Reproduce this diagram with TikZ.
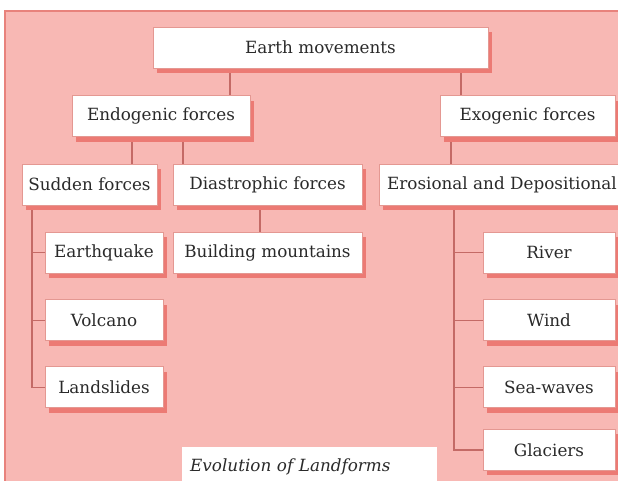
\documentclass[tikz,border=0pt]{standalone}
\usepackage{fontspec}
\setmainfont{DejaVu Serif}
\usepackage{xcolor}
\usetikzlibrary{positioning,shadows,backgrounds}

\definecolor{pinkbg}{HTML}{F8B8B4}
\definecolor{pinkedge}{HTML}{E8827C}
\definecolor{shadowred}{HTML}{EC7A74}
\definecolor{boxedge}{HTML}{E49892}
\definecolor{linkred}{HTML}{C46A66}
\definecolor{txt}{HTML}{2A2A2A}

\begin{document}
\begin{tikzpicture}[
    x=1pt, y=-1pt,
    box/.style={rectangle, draw=boxedge, line width=0.8pt, fill=white, text=txt, inner sep=2pt,
        font=\fontsize{16.8}{19}\selectfont, minimum height=41pt, minimum width=#1,
        drop shadow={shadow xshift=4pt, shadow yshift=-5pt, fill=shadowred, opacity=1}},
    box/.default=118pt,
    link/.style={draw=linkred, line width=1.2pt},
    node distance=26pt
]
    \useasboundingbox (0,0) rectangle (618,480);
    \clip (0,0) rectangle (618,480);

    % Page background
    \begin{scope}[on background layer]
        \fill[white] (0,0) rectangle (618,480);
        \fill[pinkbg] (4,10) rectangle (630,490);
        \draw[pinkedge, line width=2pt] (5,490) -- (5,11) -- (630,11);
    \end{scope}

    % Root and the two kinds of forces
    \node[box=335pt] (earth) at (320.5,47.5) {Earth movements};
    \node[box=178pt] (endo) at (161,116) {Endogenic forces};
    \node[box=175pt] (exo) at (527.5,116) {Exogenic forces};

    % Second row
    \node[box=135pt] (sudden) at (89.5,184.5) {Sudden forces};
    \node[box=189pt] (dias) at (267.5,184.5) {Diastrophic forces};
    \node[box=246pt] (eros) at (502,184.5) {Erosional and Depositional};

    % Endogenic leaves
    \node[box] (quake) at (104,252.5) {Earthquake};
    \node[box, below=26pt of quake] (volc) {Volcano};
    \node[box, below=25pt of volc] (land) {Landslides};
    \node[box=189pt] (build) at (267.5,252.5) {Building mountains};

    % Exogenic leaves
    \node[box=132pt] (river) at (549,252.5) {River};
    \node[box=132pt, below=26pt of river] (wind) {Wind};
    \node[box=132pt, below=25pt of wind] (sea) {Sea-waves};
    \node[box=132pt, below=21pt of sea] (glac) {Glaciers};

    % Caption
    \node[fill=white, anchor=north west, minimum width=255pt, minimum height=40pt, inner xsep=8pt,
        text width=239pt, align=left, text=txt, font=\fontsize{16.8}{19}\selectfont\itshape]
        (evol) at (182,447) {Evolution of Landforms};

    % Connectors
    \coordinate (strunk) at ([xshift=-57.5pt]sudden.south);
    \coordinate (etrunk) at ([xshift=-48pt]eros.south);
    \begin{scope}[on background layer]
        \draw[link] ([xshift=69pt]endo.north) -- ([xshift=69pt]endo.north |- earth.south);
        \draw[link] ([xshift=-66.5pt]exo.north) -- ([xshift=-66.5pt]exo.north |- earth.south);
        \draw[link] ([xshift=42.5pt]sudden.north) -- ([xshift=42.5pt]sudden.north |- endo.south);
        \draw[link] ([xshift=-84.5pt]dias.north) -- ([xshift=-84.5pt]dias.north |- endo.south);
        \draw[link] ([xshift=-51pt]eros.north) -- ([xshift=-51pt]eros.north |- exo.south);
        \draw[link] ([xshift=-7.5pt]build.north) -- ([xshift=-7.5pt]build.north |- dias.south);
        \draw[link] (strunk) |- (land.west);
        \draw[link] (etrunk) |- (glac.west);
        \foreach \n in {quake,volc} {
            \draw[link] (\n.west) -- (\n.west -| strunk);
        }
        \foreach \n in {river,wind,sea} {
            \draw[link] (\n.west) -- (\n.west -| etrunk);
        }
    \end{scope}

\end{tikzpicture}
\end{document}
